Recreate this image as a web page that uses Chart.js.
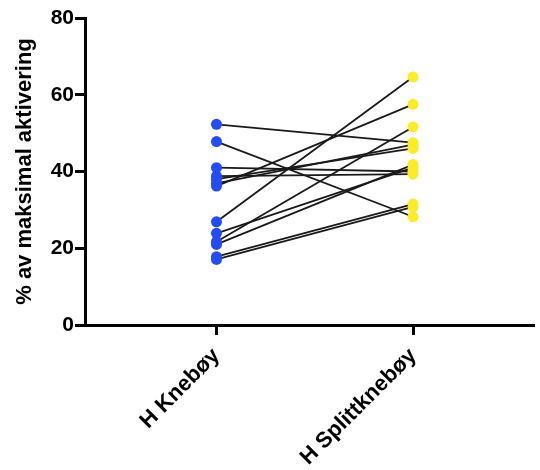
<!DOCTYPE html>
<html>
<head>
<meta charset="utf-8">
<script src="https://cdn.jsdelivr.net/npm/chart.js@4/dist/chart.umd.min.js"></script>
<style>
  html, body { margin: 0; padding: 0; background: #fff; }
  canvas { display: block; }
</style>
</head>
<body>
<canvas id="c" width="540" height="470"></canvas>
<script>
// kategorier og parvise målinger (en linje per forsøksperson)
const categories = ["H Knebøy", "H Splittknebøy"];
const knebooy = [52.3, 47.8, 41.0, 38.8, 38.0, 36.9, 36.2, 26.9, 23.9, 21.7, 21.0, 17.8, 17.1];
const splitt  = [47.5, 28.2, 40.0, 39.3, 46.0, 47.0, 57.5, 64.6, 41.0, 51.6, 41.8, 31.5, 30.8];
const yTicks = [0, 20, 40, 60, 80];

const BLUE = "rgb(36,76,245)";
const YELLOW = "rgb(250,236,40)";
const FONT = "'Liberation Sans', Arial, Helvetica, sans-serif";

const datasets = knebooy.map((v, i) => ({
  data: [{ x: 0, y: v }, { x: 1, y: splitt[i] }],
  showLine: true,
  borderColor: "#1a1a1a",
  borderWidth: 1.8,
  pointRadius: 5.5,
  pointBackgroundColor: [BLUE, YELLOW],
  pointBorderColor: [BLUE, YELLOW],
  pointBorderWidth: 0,
}));

new Chart(document.getElementById("c").getContext("2d"), {
  type: "scatter",
  data: { datasets },
  options: {
    responsive: false,
    animation: false,
    layout: { padding: { top: 18, right: 0, left: 12, bottom: 0 } },
    plugins: { legend: { display: false }, tooltip: { enabled: false } },
    scales: {
      x: {
        type: "linear",
        min: -0.669,
        max: 1.618,
        afterBuildTicks: (s) => { s.ticks = [{ value: 0 }, { value: 1 }]; },
        afterFit: (s) => { s.height = 145; },
        ticks: {
          color: "#000",
          font: { family: FONT, size: 22, weight: "bold" },
          minRotation: 45,
          maxRotation: 45,
          padding: 8,
          callback: (v) => categories[v] || "",
        },
        grid: { drawOnChartArea: false, tickColor: "#000", tickWidth: 3, tickLength: 10 },
        border: { color: "#000", width: 3 },
      },
      y: {
        min: 0,
        max: 80,
        afterBuildTicks: (s) => { s.ticks = yTicks.map((v) => ({ value: v })); },
        afterFit: (s) => { s.width = 73; },
        ticks: {
          color: "#000",
          font: { family: FONT, size: 21, weight: "bold" },
          padding: 1,
        },
        grid: { drawOnChartArea: false, tickColor: "#000", tickWidth: 3, tickLength: 10 },
        border: { color: "#000", width: 3 },
        title: {
          display: true,
          text: "% av maksimal aktivering",
          color: "#000",
          font: { family: FONT, size: 22, weight: "bold" },
          padding: { top: 0, bottom: 4 },
        },
      },
    },
  },
});
</script>
</body>
</html>
